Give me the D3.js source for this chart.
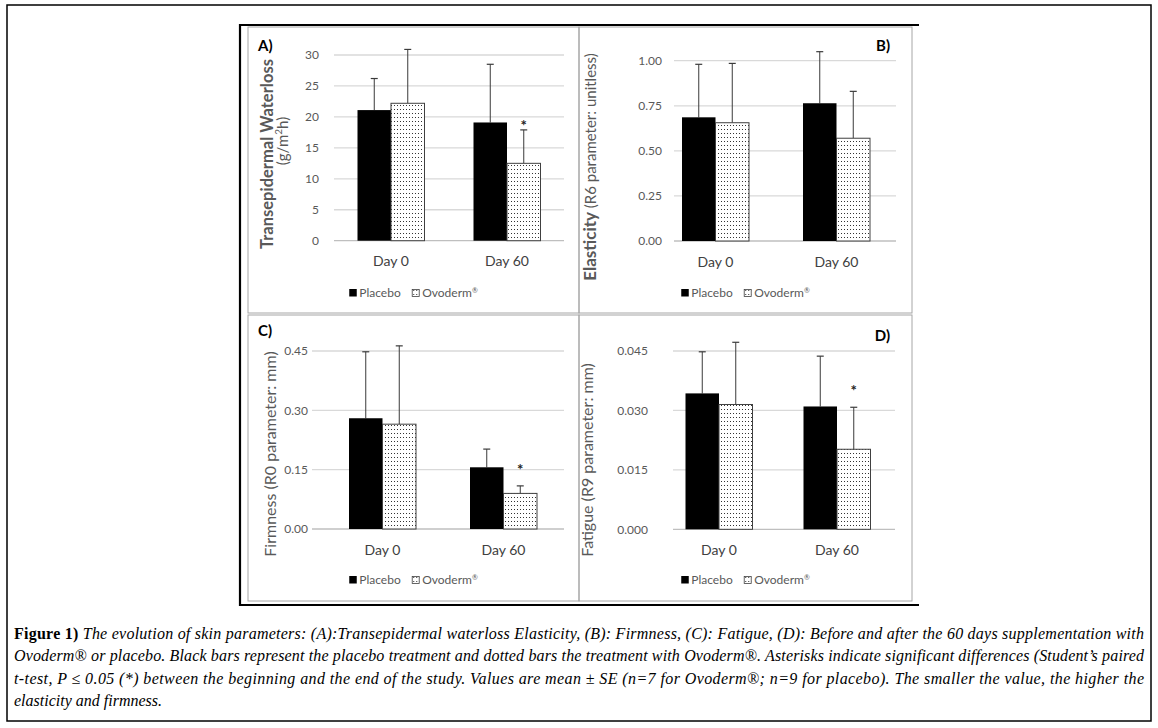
<!DOCTYPE html>
<html><head><meta charset="utf-8">
<script src="https://cdn.jsdelivr.net/npm/d3@7"></script>
<style>body{margin:0;background:#fff}svg{display:block}</style>
</head><body><svg id="c" width="1158" height="728"></svg>
<script>
// ---------- data ----------
const categories = ["Day 0", "Day 60"];
const seriesNames = ["Placebo", "Ovoderm®"];

// (A) Transepidermal waterloss
const tewlPlacebo = [21.1, 19.1];
const tewlPlaceboSE = [5.1, 9.4];
const tewlOvoderm = [22.2, 12.5];
const tewlOvodermSE = [8.7, 5.4];
const tewlTicks = [0, 5, 10, 15, 20, 25, 30];
const tewlSig = [null, 19.0];

// (B) Elasticity
const elasPlacebo = [0.686, 0.764];
const elasPlaceboSE = [0.294, 0.286];
const elasOvoderm = [0.656, 0.570];
const elasOvodermSE = [0.329, 0.260];
const elasTicks = [0, 0.25, 0.5, 0.75, 1.0];
const elasSig = [null, null];

// (C) Firmness
const firmPlacebo = [0.280, 0.156];
const firmPlaceboSE = [0.168, 0.046];
const firmOvoderm = [0.265, 0.090];
const firmOvodermSE = [0.198, 0.019];
const firmTicks = [0, 0.15, 0.30, 0.45];
const firmSig = [null, 0.1575];

// (D) Fatigue
const fatPlacebo = [0.0343, 0.0310];
const fatPlaceboSE = [0.0105, 0.0127];
const fatOvoderm = [0.0315, 0.0202];
const fatOvodermSE = [0.0157, 0.0106];
const fatTicks = [0, 0.015, 0.030, 0.045];
const fatSig = [null, 0.0357];

const captionLines = [
  "The evolution of skin parameters: (A):Transepidermal waterloss Elasticity, (B): Firmness, (C): Fatigue, (D): Before and after the 60 days supplementation with",
  "Ovoderm® or placebo. Black bars represent the placebo treatment and dotted bars the treatment with Ovoderm®.  Asterisks indicate significant differences (Student’s paired",
  "t-test, P ≤ 0.05 (*) between the beginning and the end of the study. Values are mean ± SE (n=7 for Ovoderm®; n=9 for placebo). The smaller the value, the higher the",
  "elasticity and firmness."
];

// ---------- panels ----------
const panels = [
  {label: "A)", pl: tewlPlacebo, plSE: tewlPlaceboSE, ov: tewlOvoderm, ovSE: tewlOvodermSE, ticks: tewlTicks, sig: tewlSig, fmt: d3.format("d"),
   title: [[{t: "Transepidermal Waterloss", w: 700, s: 16.5}], [{t: "(g/m", w: 400, s: 15}, {t: "2", w: 400, s: 10, sup: true}, {t: "h)", w: 400, s: 15, down: true}]]},
  {label: "B)", pl: elasPlacebo, plSE: elasPlaceboSE, ov: elasOvoderm, ovSE: elasOvodermSE, ticks: elasTicks, sig: elasSig, fmt: d3.format(".2f"),
   title: [[{t: "Elasticity ", w: 700, s: 17}, {t: "(R6 parameter: unitless)", w: 400, s: 15}]]},
  {label: "C)", pl: firmPlacebo, plSE: firmPlaceboSE, ov: firmOvoderm, ovSE: firmOvodermSE, ticks: firmTicks, sig: firmSig, fmt: d3.format(".2f"),
   title: [[{t: "Firmness (R0 parameter: mm)", w: 400, s: 16}]]},
  {label: "D)", pl: fatPlacebo, plSE: fatPlaceboSE, ov: fatOvoderm, ovSE: fatOvodermSE, ticks: fatTicks, sig: fatSig, fmt: d3.format(".3f"),
   title: [[{t: "Fatigue (R9 parameter: mm)", w: 400, s: 16}]]}
];

// layout (pixels)
const layout = [
  {box: [248, 27, 579, 313], xr: [333, 565], yr: [240.7, 55], grid: [334, 564], tickX: 319, dayY: 266, legY: 297,
   lab: [258, 51, "start"], titleX: [273, 288], titleY: [154, 141]},
  {box: [579, 27, 912, 313], xr: [655, 897], yr: [241, 60.7], grid: [674, 896], tickX: 662, dayY: 267, legY: 297,
   lab: [890, 51, "end"], titleX: [596], titleY: [167]},
  {box: [248, 315, 579, 601], xr: [322, 564], yr: [529, 351], grid: [312, 564], tickX: 308, dayY: 555, legY: 584,
   lab: [258, 336, "start"], titleX: [276], titleY: [454]},
  {box: [579, 315, 912, 601], xr: [660, 896], yr: [529.3, 351], grid: [673, 895], tickX: 648, dayY: 555, legY: 584,
   lab: [890, 341, "end"], titleX: [593], titleY: [460]}
];

const svg = d3.select("#c");
const FONT = "Lato, 'Open Sans', sans-serif";

// dotted pattern
const defs = svg.append("defs");
const pat = defs.append("pattern").attr("id", "dots").attr("patternUnits", "userSpaceOnUse")
  .attr("width", 3).attr("height", 4);
pat.append("rect").attr("width", 3).attr("height", 4).attr("fill", "#fff");
pat.append("rect").attr("x", 1).attr("y", 1).attr("width", 1).attr("height", 1).attr("fill", "#333");

// outer frame
svg.append("rect").attr("x", 7).attr("y", 5).attr("width", 1144).attr("height", 716)
  .attr("fill", "none").attr("stroke", "#000").attr("stroke-width", 1.5);

// figure frame (top/left/bottom black)
svg.append("path").attr("d", "M919,25 H240 V605 H919").attr("fill", "none").attr("stroke", "#000").attr("stroke-width", 2.2);

panels.forEach((p, i) => {
  const L = layout[i];
  const g = svg.append("g");
  g.append("rect").attr("x", L.box[0]).attr("y", L.box[1]).attr("width", L.box[2] - L.box[0]).attr("height", L.box[3] - L.box[1])
    .attr("fill", "none").attr("stroke", "#a6a6a6").attr("stroke-width", 1);

  const x = d3.scaleBand().domain(categories).range(L.xr).padding(0);
  const xs = d3.scaleBand().domain(seriesNames).range([-33.5, 33.5]).padding(0);
  const y = d3.scaleLinear().domain([p.ticks[0], p.ticks[p.ticks.length - 1]]).range(L.yr);

  // gridlines
  g.selectAll(".grid").data(p.ticks).join("line")
    .attr("x1", L.grid[0]).attr("x2", L.grid[1])
    .attr("y1", d => y(d)).attr("y2", d => y(d))
    .attr("stroke", (d, k) => k === 0 ? "#bfbfbf" : "#d9d9d9").attr("stroke-width", 1.3);

  // y tick labels
  g.selectAll(".tl").data(p.ticks).join("text")
    .attr("x", L.tickX).attr("y", d => y(d)).attr("dy", "0.35em")
    .attr("text-anchor", "end").attr("font-family", FONT).attr("font-size", 12).attr("fill", "#595959")
    .text(d => p.fmt(d));

  // bars
  const rows = [];
  categories.forEach((c, j) => {
    rows.push({c, s: seriesNames[0], v: p.pl[j], e: p.plSE[j], sig: null});
    rows.push({c, s: seriesNames[1], v: p.ov[j], e: p.ovSE[j], sig: p.sig[j]});
  });
  const bx = r => x(r.c) + x.bandwidth() / 2 + xs(r.s);
  const bw = xs.bandwidth();

  rows.forEach(r => {
    const cx = bx(r) + bw / 2;
    g.append("line").attr("x1", cx).attr("x2", cx).attr("y1", y(r.v)).attr("y2", y(r.v + r.e))
      .attr("stroke", "#3a3a3a").attr("stroke-width", 1);
    g.append("line").attr("x1", cx - 3.5).attr("x2", cx + 3.5).attr("y1", y(r.v + r.e)).attr("y2", y(r.v + r.e))
      .attr("stroke", "#3a3a3a").attr("stroke-width", 1.2);
  });

  g.selectAll(".bar").data(rows).join("rect")
    .attr("x", r => bx(r)).attr("width", bw)
    .attr("y", r => y(r.v)).attr("height", r => y(0) - y(r.v))
    .attr("fill", r => r.s === seriesNames[0] ? "#000" : "url(#dots)")
    .attr("stroke", r => r.s === seriesNames[0] ? "#000" : "#404040")
    .attr("stroke-width", r => r.s === seriesNames[0] ? 0 : 1);

  rows.filter(r => r.sig != null).forEach(r => {
    g.append("text").attr("x", bx(r) + bw / 2).attr("y", y(r.sig) + 8)
      .attr("text-anchor", "middle").attr("font-family", FONT).attr("font-weight", 700)
      .attr("font-size", 15).attr("fill", "#222").text("*");
  });

  g.selectAll(".cat").data(categories).join("text")
    .attr("x", c => x(c) + x.bandwidth() / 2).attr("y", L.dayY)
    .attr("text-anchor", "middle").attr("font-family", FONT).attr("font-size", 14).attr("fill", "#404040")
    .text(c => c);

  // legend
  const lg = g.append("g");
  lg.append("rect").attr("x", 0).attr("y", -8).attr("width", 7.5).attr("height", 7.5).attr("fill", "#000");
  const t1 = lg.append("text").attr("x", 10).attr("y", 0).attr("font-family", FONT).attr("font-size", 12)
    .attr("fill", "#595959").text(seriesNames[0]);
  const w1 = t1.node().getComputedTextLength();
  const ox = 10 + w1 + 11;
  lg.append("rect").attr("x", ox + 0.5).attr("y", -7.5).attr("width", 7).attr("height", 7)
    .attr("fill", "url(#dots)").attr("stroke", "#404040").attr("stroke-width", 0.8);
  const t2 = lg.append("text").attr("x", ox + 10.5).attr("y", 0).attr("font-family", FONT).attr("font-size", 12)
    .attr("fill", "#595959");
  t2.append("tspan").text("Ovoderm");
  t2.append("tspan").attr("font-size", 7).attr("dy", -4).text("®");
  const totalW = ox + 10.5 + t2.node().getComputedTextLength();
  const pcx = (L.box[0] + L.box[2]) / 2;
  lg.attr("transform", `translate(${pcx - totalW / 2},${L.legY})`);

  g.append("text").attr("x", L.lab[0]).attr("y", L.lab[1]).attr("text-anchor", L.lab[2])
    .attr("font-family", FONT).attr("font-weight", 700).attr("font-size", 15).attr("fill", "#000").text(p.label);

  p.title.forEach((line, k) => {
    const t = g.append("text")
      .attr("transform", `translate(${L.titleX[k]},${L.titleY[k]}) rotate(-90)`)
      .attr("text-anchor", "middle").attr("font-family", FONT).attr("fill", "#595959");
    line.forEach(seg => {
      const ts = t.append("tspan").attr("font-weight", seg.w).attr("font-size", seg.s).text(seg.t);
      if (seg.sup) ts.attr("dy", -6);
      if (seg.down) ts.attr("dy", 6);
    });
  });
});

// caption
const capY = [639, 661, 684, 706];
captionLines.forEach((line, k) => {
  const t = svg.append("text").attr("x", 14).attr("y", capY[k])
    .attr("font-family", "'Liberation Serif', 'DejaVu Serif', serif").attr("font-size", 16).attr("fill", "#000");
  if (k === 0) {
    t.append("tspan").attr("font-weight", 700).text("Figure 1) ");
  }
  t.append("tspan").attr("font-style", "italic").text(line);
  if (k < 3) t.attr("textLength", 1130).attr("lengthAdjust", "spacing");
});
</script>
</body></html>
